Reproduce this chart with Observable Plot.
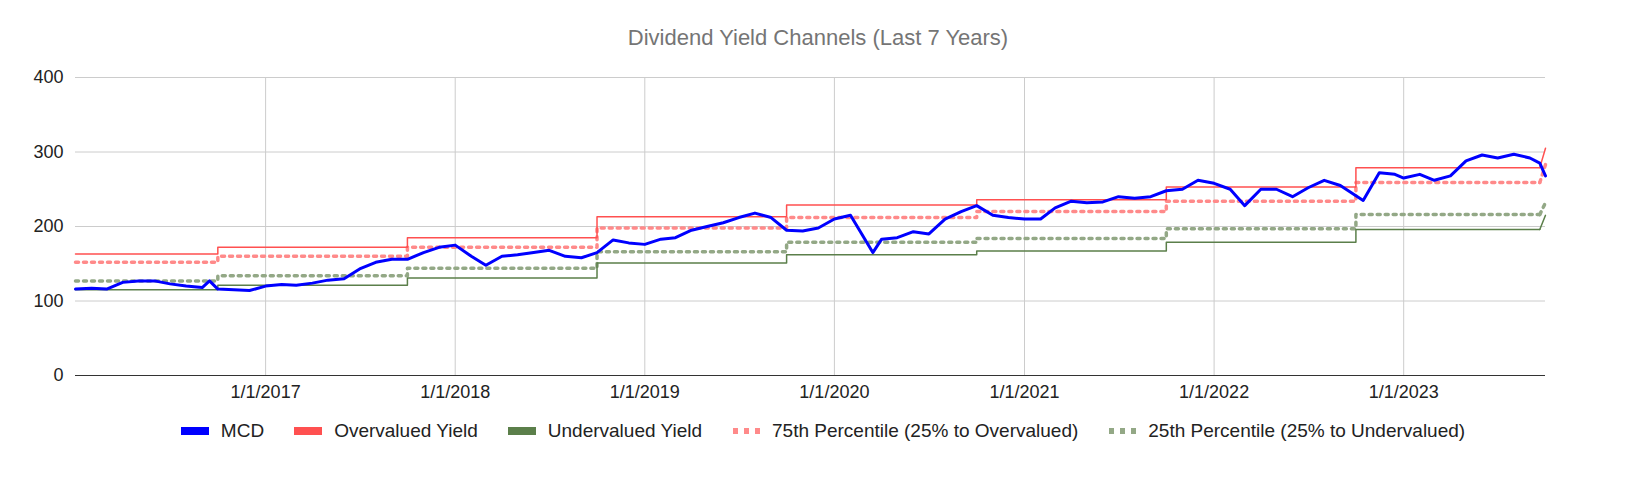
<!DOCTYPE html>
<html><head><meta charset="utf-8">
<script src="https://cdn.jsdelivr.net/npm/d3@7"></script>
<script src="https://cdn.jsdelivr.net/npm/@observablehq/plot@0.6"></script>
<style>
html,body{margin:0;padding:0;overflow:hidden;width:1636px;height:494px;background:#fff;font-family:Arial,"Liberation Sans",sans-serif}
#title{height:60px;line-height:76px;text-align:center;color:#757575;font-size:22px}
#chart svg{display:block}
#legend{display:flex;justify-content:center;gap:30px;font-size:19px;color:#222;margin-top:10px;padding-left:10px}
.it{display:flex;align-items:center;gap:10px}
</style></head><body>
<div id="title">Dividend Yield Channels (Last 7 Years)</div>
<div id="chart"></div>
<div id="legend"></div>
<script>
const mcdDates = ["2016-01-01","2016-02-01","2016-03-01","2016-04-01","2016-05-01","2016-06-01","2016-07-01","2016-08-01","2016-09-01","2016-09-15","2016-10-01","2016-11-01","2016-12-01",
"2017-01-01","2017-02-01","2017-03-01","2017-04-01","2017-05-01","2017-06-01","2017-07-01","2017-08-01","2017-09-01","2017-10-01","2017-11-01","2017-12-01",
"2018-01-01","2018-02-01","2018-03-01","2018-04-01","2018-05-01","2018-06-01","2018-07-01","2018-08-01","2018-09-01","2018-10-01","2018-11-01","2018-12-01",
"2019-01-01","2019-02-01","2019-03-01","2019-04-01","2019-05-01","2019-06-01","2019-07-01","2019-08-01","2019-09-01","2019-10-01","2019-11-01","2019-12-01",
"2020-01-01","2020-02-01","2020-03-15","2020-04-01","2020-05-01","2020-06-01","2020-07-01","2020-08-01","2020-09-01","2020-10-01","2020-11-01","2020-12-01",
"2021-01-01","2021-02-01","2021-03-01","2021-04-01","2021-05-01","2021-06-01","2021-07-01","2021-08-01","2021-09-01","2021-10-01","2021-11-01","2021-12-01",
"2022-01-01","2022-02-01","2022-03-01","2022-04-01","2022-05-01","2022-06-01","2022-07-01","2022-08-01","2022-09-01","2022-10-15","2022-11-15","2022-12-15",
"2023-01-01","2023-02-01","2023-03-01","2023-04-01","2023-05-01","2023-06-01","2023-07-01","2023-08-01","2023-09-01","2023-09-20","2023-10-01"];
const mcdValues = [116,117,116,125,127,127,123,120,118,127,116,115,114,
120,122,121,124,128,130,143,152,156,156,165,172,
175,160,148,160,162,165,168,160,158,165,182,178,
176,183,185,195,200,205,212,218,212,195,194,198,
210,215,165,183,185,193,190,210,220,228,215,212,
210,210,225,234,232,233,240,238,240,248,250,262,
258,250,228,250,250,240,252,262,255,235,272,270,
265,270,262,268,288,296,292,297,292,285,268,252];
const stepDates = ["2016-01-01","2016-10-01","2017-10-01","2018-10-01","2019-10-01","2020-10-01","2021-10-01","2022-10-01","2023-09-20","2023-10-01"];
const overValues = [163,172,185,213,229,236,253,279,279,305];
const p75Values  = [152,160,172,198,212,220,234,259,259,283];
const p25Values  = [127,134,144,166,179,184,197,216,216,232];
const underValues= [115,121,131,151,162,167,179,196,196,215];
const seriesNames = ["MCD","Overvalued Yield","Undervalued Yield","75th Percentile (25% to Overvalued)","25th Percentile (25% to Undervalued)"];
const colors = ["#0000ff","#ff5050","#5b7f4a","#ff8a8a","#93a886"];

const mcd = mcdDates.map((d,i)=>({date:new Date(d),v:mcdValues[i]}));
const mk = vals => stepDates.map((d,i)=>({date:new Date(d),v:vals[i]}));
const tickDates = ["2017-01-01","2018-01-01","2019-01-01","2020-01-01","2021-01-01","2022-01-01","2023-01-01"].map(d=>new Date(d));
const n = stepDates.length;
function channel(vals, opts){
  const all = mk(vals);
  return [
    Plot.line(all.slice(0,n-1),{x:"date",y:"v",curve:"step-after",...opts}),
    Plot.line(all.slice(n-2),{x:"date",y:"v",...opts})
  ];
}
const chart = Plot.plot({
  width:1636, height:350, marginTop:17, marginBottom:35, marginLeft:75, marginRight:91,
  style:{fontSize:"18px",fontFamily:"Arial, 'Liberation Sans', sans-serif",color:"#222"},
  x:{type:"utc",domain:[new Date("2016-01-01"),new Date("2023-10-01")],ticks:tickDates,tickFormat:d=>`${d.getUTCMonth()+1}/${d.getUTCDate()}/${d.getUTCFullYear()}`,tickSize:0,label:null,tickPadding:10},
  y:{domain:[0,400],ticks:[0,100,200,300,400],tickSize:0,label:null,tickPadding:12},
  marks:[
    Plot.ruleY([100,200,300,400],{stroke:"#ccc"}),
    Plot.ruleX(tickDates,{stroke:"#ccc"}),
    Plot.ruleY([0],{stroke:"#333"}),
    ...channel(p75Values,{stroke:colors[3],strokeWidth:3.5,strokeDasharray:"3,5"}),
    ...channel(p25Values,{stroke:colors[4],strokeWidth:3.5,strokeDasharray:"3,5"}),
    ...channel(overValues,{stroke:colors[1],strokeWidth:1.5}),
    ...channel(underValues,{stroke:colors[2],strokeWidth:1.5}),
    Plot.line(mcd,{x:"date",y:"v",stroke:colors[0],strokeWidth:3})
  ]
});
document.getElementById("chart").appendChild(chart);
const lg=document.getElementById("legend");
seriesNames.forEach((nm,i)=>{
  const sw = i>=3 ? `<svg width="30" height="8"><line x1="1" y1="4" x2="30" y2="4" stroke="${colors[i]}" stroke-width="6" stroke-dasharray="5,6"/></svg>`
                  : `<svg width="30" height="8"><rect width="28" height="8" fill="${colors[i]}"/></svg>`;
  lg.insertAdjacentHTML("beforeend",`<div class="it">${sw}<span>${nm}</span></div>`);
});
</script></body></html>
